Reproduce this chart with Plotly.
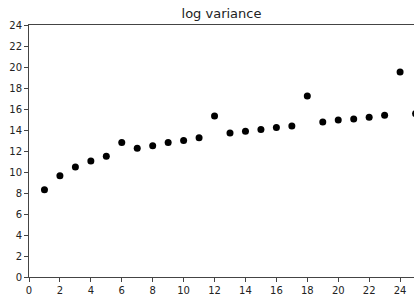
import plotly.graph_objects as go

x_vals = list(range(1, 26))
log_var = [8.32, 9.65, 10.48, 11.05, 11.5, 12.8, 12.26, 12.5, 12.8, 13.0,
           13.27, 15.33, 13.71, 13.88, 14.04, 14.23, 14.38, 17.24, 14.76, 14.95,
           15.05, 15.21, 15.4, 19.52, 15.56]
x_ticks = list(range(0, 25, 2))
y_ticks = list(range(0, 25, 2))

fig = go.Figure(go.Scatter(
    x=x_vals, y=log_var, mode="markers",
    marker=dict(color="black", size=7, line=dict(width=0)),
    cliponaxis=True,
))

fig.update_layout(
    width=414, height=296,
    margin=dict(l=29, r=0, t=25, b=19),
    paper_bgcolor="white", plot_bgcolor="white",
    showlegend=False,
    font=dict(family="DejaVu Sans", size=10, color="#222"),
    title=dict(text="log variance", x=0.5, xref="paper", xanchor="center",
               y=1 - 13/296, yanchor="middle",
               font=dict(family="DejaVu Sans", size=13, color="#222")),
)
fig.update_xaxes(
    range=[0, 24.9], tickvals=x_ticks, ticktext=[str(t) for t in x_ticks],
    showgrid=False, zeroline=False,
    showline=True, linecolor="#444", linewidth=1, mirror=True,
    ticks="outside", ticklen=4, tickcolor="#444", tickwidth=1,
)
fig.update_yaxes(
    range=[0, 24], tickvals=y_ticks, ticktext=[str(t) for t in y_ticks],
    showgrid=False, zeroline=False,
    showline=True, linecolor="#444", linewidth=1,
    ticks="outside", ticklen=4, tickcolor="#444", tickwidth=1,
)

fig.write_html("out.html", config={"displayModeBar": False},
               post_script="document.body.style.margin='0px';document.body.style.overflow='hidden';")
